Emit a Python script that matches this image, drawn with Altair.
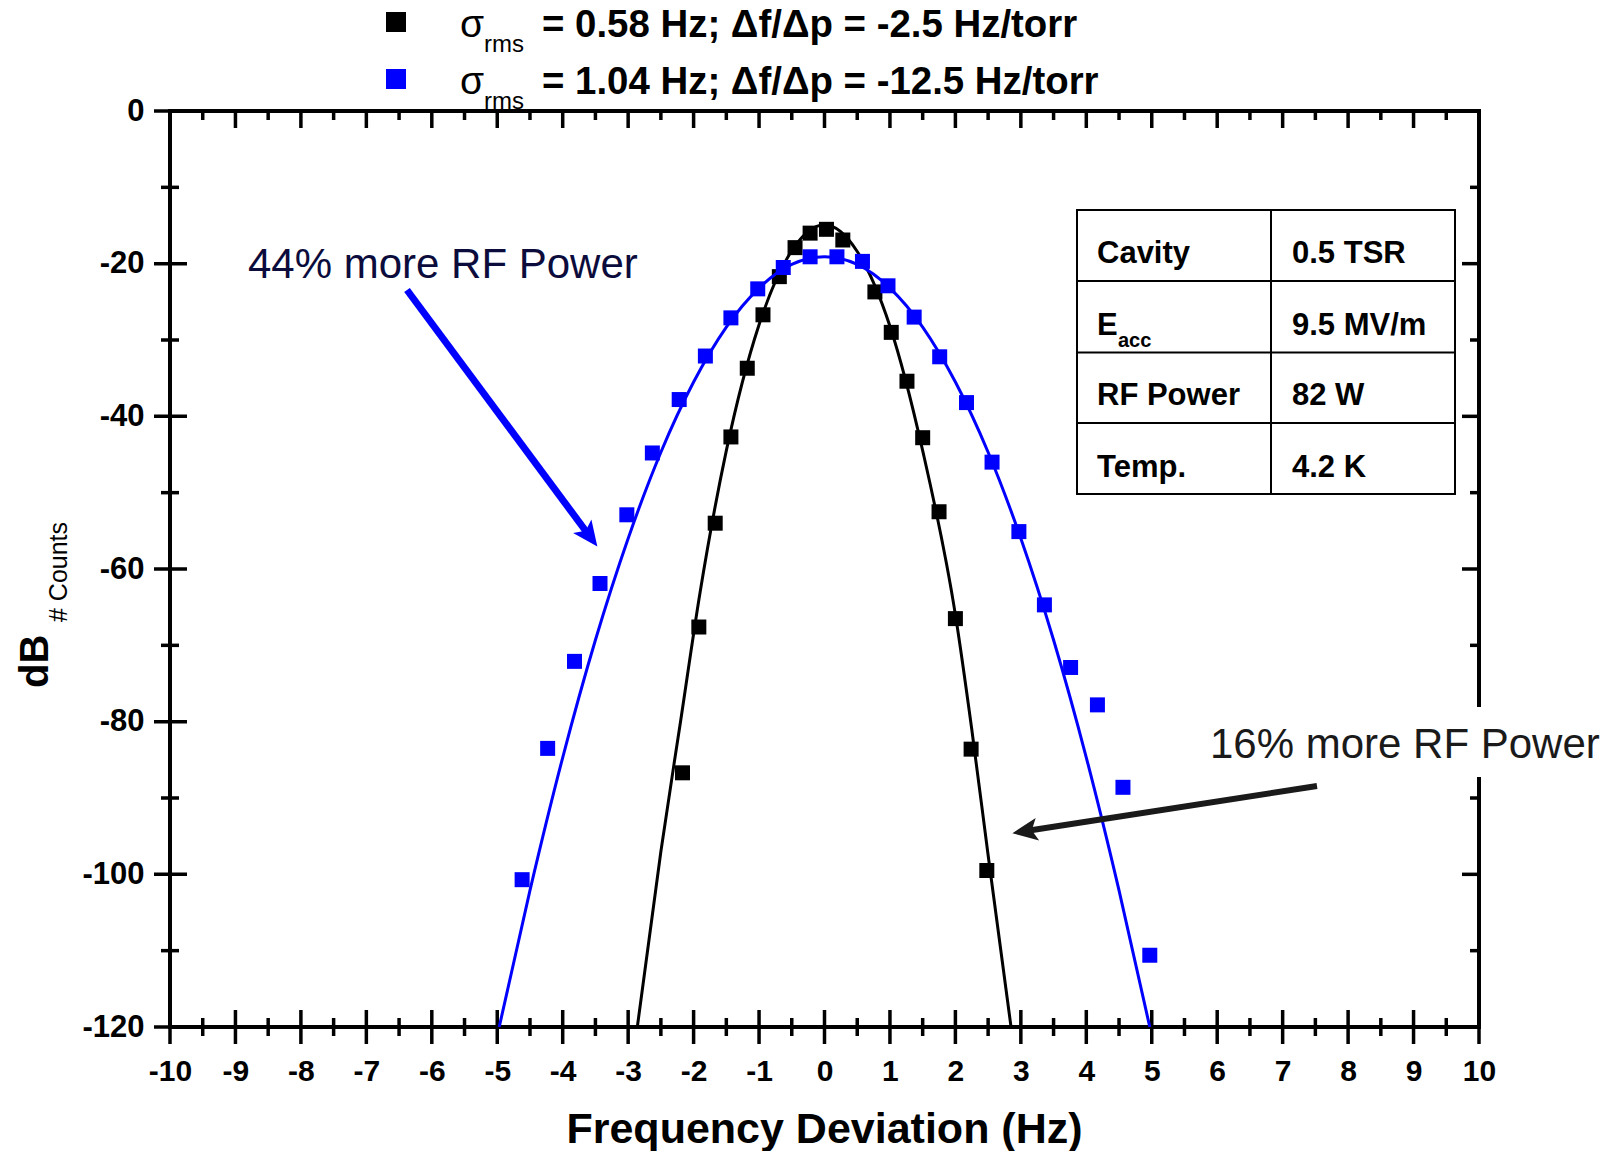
import altair as alt
import pandas as pd

# ---------------- data ----------------
black_x = [-2.17, -1.92, -1.67, -1.43, -1.18, -0.94, -0.69, -0.45, -0.22, 0.03,
           0.28, 0.77, 1.02, 1.26, 1.50, 1.75, 2.00, 2.24, 2.48]
black_y = [-86.7, -67.6, -54.0, -42.7, -33.7, -26.7, -21.7, -17.9, -16.0, -15.5,
           -16.9, -23.7, -29.0, -35.4, -42.8, -52.5, -66.5, -83.6, -99.5]

blue_x = [-4.62, -4.23, -3.82, -3.43, -3.02, -2.63, -2.22, -1.82, -1.43, -1.02,
          -0.63, -0.22, 0.19, 0.58, 0.97, 1.37, 1.76, 2.17, 2.56, 2.97,
          3.36, 3.76, 4.17, 4.56, 4.97]
blue_y = [-100.7, -83.5, -72.1, -61.9, -52.9, -44.8, -37.8, -32.1, -27.1, -23.3,
          -20.5, -19.1, -19.1, -19.7, -22.9, -27.0, -32.2, -38.2, -46.0, -55.1,
          -64.7, -72.9, -77.8, -88.6, -110.6]

black_fit_x = [-2.86, -2.5, -2.2, -1.9, -1.5, -1.0, -0.5, 0.0, 0.5, 1.0, 1.5, 2.0, 2.25, 2.5, 2.85]
black_fit_y = [-120, -97, -80, -63, -44.5, -28, -18.3, -14.9, -18.4, -28.2, -44.5, -66, -81, -97.5, -120]

blue_fit_x = [-4.97, -4.5, -4.0, -3.5, -3.0, -2.5, -2.0, -1.5, -1.0, -0.5, 0.0,
              0.5, 1.0, 1.5, 2.0, 2.5, 3.0, 3.5, 4.0, 4.5, 4.97]
blue_fit_y = [-120, -102.1, -84.7, -69.3, -56.0, -44.7, -35.5, -28.3, -23.2, -20.1, -19.1,
              -20.1, -23.2, -28.3, -35.5, -44.7, -56.0, -69.3, -84.7, -102.1, -120]

x_major = list(range(-10, 11))
x_minor = [v + 0.5 for v in range(-10, 10)]
y_major = [0, -20, -40, -60, -80, -100, -120]
y_minor = [-10, -30, -50, -70, -90, -110]

legend_labels = ["= 0.58 Hz; \u0394f/\u0394p = -2.5 Hz/torr",
                 "= 1.04 Hz; \u0394f/\u0394p = -12.5 Hz/torr"]
legend_colors = ["#000000", "#0000ff"]

table_keys = ["Cavity", "E", "RF Power", "Temp."]
table_vals = ["0.5 TSR", "9.5 MV/m", "82 W", "4.2 K"]

x_title = "Frequency Deviation (Hz)"
note_blue = "44% more RF Power"
note_black = "16% more RF Power"

# ---------------- layout ----------------
W, H = 1309, 916
FONT = "Liberation Sans"

xs = alt.Scale(domain=[-10, 10], nice=False, zero=False)
ys = alt.Scale(domain=[-120, 0], nice=False, zero=False)

x_axis = alt.Axis(values=x_major, title=None, ticks=False, tickSize=0, domain=False, grid=False,
                  labelFont=FONT, labelFontSize=30, labelFontWeight="bold", labelColor="black",
                  labelPadding=29, labelFlush=False, labelOverlap=False,
                  labelExpr="toString(datum.value)")
y_axis = alt.Axis(values=y_major, title=None, ticks=False, tickSize=0, domain=False, grid=False,
                  labelFont=FONT, labelFontSize=31, labelFontWeight="bold", labelColor="black",
                  labelPadding=26, labelOverlap=False,
                  labelExpr="toString(datum.value)")


def X(field):
    return alt.X(field, type="quantitative", scale=xs, axis=x_axis)


def Y(field):
    return alt.Y(field, type="quantitative", scale=ys, axis=y_axis)


one = pd.DataFrame({"a": [0]})
layers = []

# ticks
dxM = pd.DataFrame({"v": x_major})
dxm = pd.DataFrame({"v": x_minor})
dyM = pd.DataFrame({"v": y_major})
dym = pd.DataFrame({"v": y_minor})
tick = dict(color="black", strokeWidth=3.5)
layers.append(alt.Chart(dxM).mark_rule(**tick).encode(x=X("v"), y=alt.value(H - 17), y2=alt.value(H + 17)))
layers.append(alt.Chart(dxm).mark_rule(**tick).encode(x=X("v"), y=alt.value(H - 9), y2=alt.value(H + 9)))
layers.append(alt.Chart(dxM).mark_rule(**tick).encode(x=X("v"), y=alt.value(0), y2=alt.value(17)))
layers.append(alt.Chart(dxm).mark_rule(**tick).encode(x=X("v"), y=alt.value(0), y2=alt.value(9)))
layers.append(alt.Chart(dyM).mark_rule(**tick).encode(y=Y("v"), x=alt.value(-16), x2=alt.value(17)))
layers.append(alt.Chart(dym).mark_rule(**tick).encode(y=Y("v"), x=alt.value(-9), x2=alt.value(9)))
layers.append(alt.Chart(dyM).mark_rule(**tick).encode(y=Y("v"), x=alt.value(W - 17), x2=alt.value(W)))
layers.append(alt.Chart(dym).mark_rule(**tick).encode(y=Y("v"), x=alt.value(W - 9), x2=alt.value(W)))

# curves and points
bf = pd.DataFrame({"x": black_fit_x, "y": black_fit_y})
uf = pd.DataFrame({"x": blue_fit_x, "y": blue_fit_y})
bp = pd.DataFrame({"x": black_x, "y": black_y})
up = pd.DataFrame({"x": blue_x, "y": blue_y})
layers.append(alt.Chart(bf).mark_line(color="black", strokeWidth=3, interpolate="monotone").encode(x=X("x"), y=Y("y")))
layers.append(alt.Chart(bp).mark_square(color="black", size=225, opacity=1, filled=True).encode(x=X("x"), y=Y("y")))
layers.append(alt.Chart(uf).mark_line(color="#0000ff", strokeWidth=3, interpolate="monotone").encode(x=X("x"), y=Y("y")))
layers.append(alt.Chart(up).mark_square(color="#0000ff", size=225, opacity=1, filled=True).encode(x=X("x"), y=Y("y")))


def text(s, x, y, size, bold=False, color="black", align="left", angle=0):
    kw = dict(text=s, align=align, baseline="alphabetic", font=FONT, fontSize=size,
              fontWeight="bold" if bold else "normal", color=color)
    if angle:
        kw["angle"] = angle
    return alt.Chart(one).mark_text(**kw).encode(x=alt.value(x), y=alt.value(y))


# legend
for i, (lab, col) in enumerate(zip(legend_labels, legend_colors)):
    by = -74 + 57 * i
    layers.append(alt.Chart(one).mark_square(color=col, size=400, opacity=1, filled=True)
                  .encode(x=alt.value(226), y=alt.value(by - 15)))
    layers.append(text("\u03c3", 290, by, 39))
    layers.append(text("rms", 314, by + 15, 24))
    layers.append(text(lab, 372, by, 38.4, bold=True))

# axis titles
layers.append(text(x_title, W / 2, 1032, 43, bold=True, align="center"))
layers.append(text("dB", -122, 577, 40, bold=True, angle=270))
layers.append(text("# Counts", -103, 511, 25, angle=270))

# table
layers.append(alt.Chart(one).mark_rect(fill="white", stroke="black", strokeWidth=2)
              .encode(x=alt.value(907), x2=alt.value(1285), y=alt.value(99), y2=alt.value(383)))
layers.append(alt.Chart(one).mark_rule(color="black", strokeWidth=2)
              .encode(x=alt.value(1101), x2=alt.value(1101), y=alt.value(99), y2=alt.value(383)))
for yy in [170, 241.5, 312]:
    layers.append(alt.Chart(one).mark_rule(color="black", strokeWidth=2)
                  .encode(x=alt.value(907), x2=alt.value(1285), y=alt.value(yy), y2=alt.value(yy)))
row_base = [152, 224, 294, 366]
for k, v, b in zip(table_keys, table_vals, row_base):
    layers.append(text(k, 927, b, 31, bold=True))
    layers.append(text(v, 1122, b, 31, bold=True))
layers.append(text("acc", 948, 236, 20, bold=True))

# annotations
layers.append(text(note_blue, 78, 167, 42, color="#0c0c3c"))
layers.append(alt.Chart(one).mark_rule(color="#0000ff", strokeWidth=7)
              .encode(x=alt.value(237), y=alt.value(179), x2=alt.value(418), y2=alt.value(423)))
head = "M0,-1L0.9,1L0,0.55L-0.9,1Z"
layers.append(alt.Chart(one).mark_point(shape=head, filled=True, size=640, angle=143.4,
                                        color="#0000ff", opacity=1, strokeWidth=0)
              .encode(x=alt.value(419.8), y=alt.value(425.4)))

layers.append(alt.Chart(one).mark_rect(fill="white")
              .encode(x=alt.value(1018), x2=alt.value(1338), y=alt.value(596), y2=alt.value(666)))
layers.append(text(note_black, 1040, 647, 42, color="#1a1a1a"))
layers.append(alt.Chart(one).mark_rule(color="#1a1a1a", strokeWidth=6)
              .encode(x=alt.value(1147), y=alt.value(675), x2=alt.value(856), y2=alt.value(720)))
layers.append(alt.Chart(one).mark_point(shape=head, filled=True, size=640, angle=261.2,
                                        color="#1a1a1a", opacity=1, strokeWidth=0)
              .encode(x=alt.value(854.9), y=alt.value(720.2)))

chart = alt.layer(*layers).properties(
    width=W, height=H,
    padding={"left": 170, "top": 111, "right": 135, "bottom": 124},
    autosize=alt.AutoSizeParams(type="none"),
    background="white",
).configure_view(stroke="black", strokeWidth=4)

chart.save("out.html", embed_options={"renderer": "svg", "actions": False})
